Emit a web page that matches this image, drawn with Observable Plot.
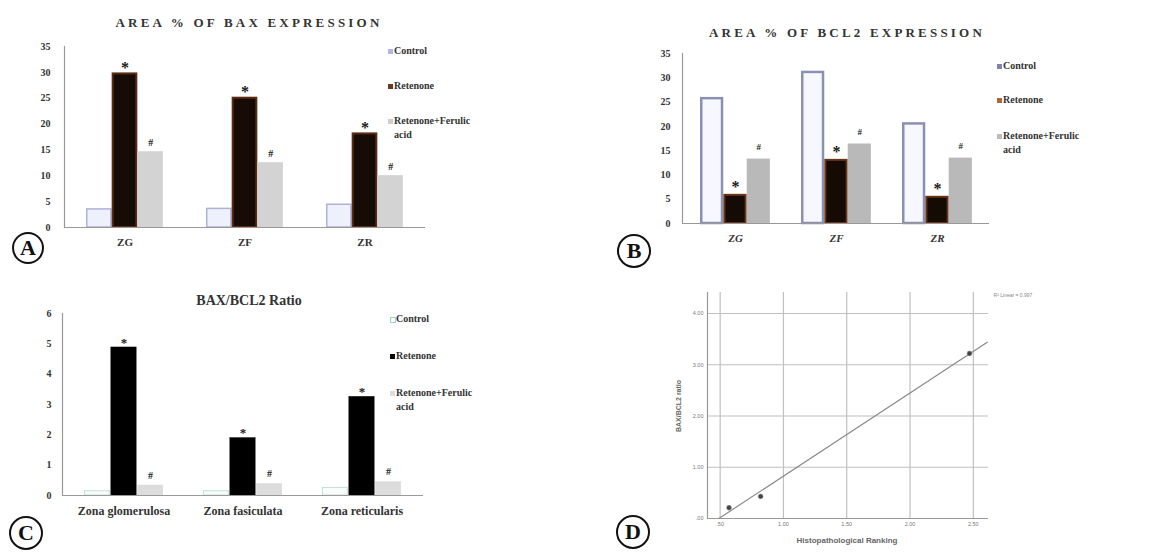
<!DOCTYPE html>
<html>
<head>
<meta charset="utf-8">
<script src="https://cdn.jsdelivr.net/npm/d3@7"></script>
<script src="https://cdn.jsdelivr.net/npm/@observablehq/plot@0.6"></script>
<style>
  html, body { margin: 0; padding: 0; background: #fff; }
  #fig { position: relative; width: 1168px; height: 560px; overflow: hidden; background: #fff; font-family: "Liberation Serif", "DejaVu Serif", serif; }
  .abs { position: absolute; }
  .title { position: absolute; font-weight: bold; color: #333; white-space: nowrap; transform: translate(-50%, -50%); }
  .leg { position: absolute; font-weight: bold; font-size: 10px; color: #333; line-height: 14px; }
  .leg .row { position: absolute; left: 0; white-space: nowrap; }
  .leg .sw { position: absolute; left: 0; width: 5px; height: 5px; }
  .leg .tx { position: absolute; left: 6px; width: 96px; white-space: normal; }
  .badge { position: absolute; box-sizing: border-box; border: 2px solid #111; border-radius: 50%; display: flex; align-items: center; justify-content: center; font-weight: bold; font-size: 22px; color: #111; transform: translate(-50%, -50%); }
  .dlab { position: absolute; font-family: "Liberation Sans", Arial, sans-serif; color: #555; white-space: nowrap; transform: translate(-50%, -50%); }
</style>
</head>
<body>
<div id="fig"></div>
<script>
// ---------------- data ----------------
const zonesShort = ["ZG", "ZF", "ZR"];
const zonesLong = ["Zona glomerulosa", "Zona fasiculata", "Zona reticularis"];
const groups = ["Control", "Retenone", "Retenone+Ferulic acid"];
const groupNotes = ["", "*", "#"];

const baxControl = [3.5, 3.6, 4.4];
const baxRetenone = [29.7, 25.0, 18.1];
const baxFerulic = [14.6, 12.5, 10.0];

const bcl2Control = [25.7, 31.1, 20.5];
const bcl2Retenone = [5.8, 13.0, 5.4];
const bcl2Ferulic = [13.2, 16.3, 13.4];

const ratioControl = [0.14, 0.14, 0.25];
const ratioRetenone = [4.88, 1.89, 3.25];
const ratioFerulic = [0.33, 0.38, 0.44];

const barTicks = [0, 5, 10, 15, 20, 25, 30, 35];
const ratioTicks = [0, 1, 2, 3, 4, 5, 6];

const rankX = [0.57, 0.82, 2.47];
const ratioY = [0.21, 0.43, 3.22];
const fitX = [0.49, 2.61];
const fitY = [0.0, 3.44];
const dTicksX = [0.5, 1.0, 1.5, 2.0, 2.5];
const dTicksY = [0, 1, 2, 3, 4];
const dDomainX = [0.4, 2.62];
const dDomainY = [0, 4.41];

const titles = ["AREA % OF BAX EXPRESSION", "AREA % OF BCL2 EXPRESSION", "BAX/BCL2 Ratio"];
const dXLabel = "Histopathological Ranking";
const dYLabel = "BAX/BCL2 ratio";
const dNote = "R\u00b2 Linear = 0.997";
const panelLetters = ["A", "B", "C", "D"];

// ---------------- helpers ----------------
const fig = document.getElementById("fig");

function place(node, left, top) {
  const d = document.createElement("div");
  d.className = "abs";
  d.style.left = left + "px";
  d.style.top = top + "px";
  d.appendChild(node);
  fig.appendChild(d);
}

function addDiv(cls, text, css) {
  const d = document.createElement("div");
  d.className = cls;
  if (text != null) d.textContent = text;
  Object.assign(d.style, css);
  fig.appendChild(d);
  return d;
}

function barPanel(cfg) {
  const n = cfg.zones.length;
  const inner = cfg.width - cfg.ml - cfg.mr;
  const step = inner / (n - cfg.pi + 2 * cfg.po);
  const barW = step * (1 - cfg.pi) / 3;
  const marks = [];
  cfg.series.forEach((vals, j) => {
    const rows = cfg.zones.map((z, i) => ({zone: z, value: vals[i], note: groupNotes[j]}));
    const off = (j - 1) * barW;
    marks.push(Plot.barY(rows, {
      x: "zone", y: "value",
      fill: cfg.fills[j], stroke: cfg.strokes[j], strokeWidth: cfg.sw[j],
      insetLeft: barW + cfg.sw[j] / 2, insetRight: barW + cfg.sw[j] / 2, dx: off
    }));
    if (groupNotes[j]) {
      const star = groupNotes[j] === "*";
      marks.push(Plot.text(rows, {
        x: "zone", y: "value", text: "note", dx: off,
        dy: star ? cfg.starDy : cfg.hashDy,
        fontSize: star ? cfg.starSize : cfg.hashSize, fontWeight: "bold", fill: "#1a1a1a"
      }));
    }
  });
  marks.push(Plot.frame({anchor: "left", stroke: cfg.axisColor, strokeWidth: 1.2}));
  marks.push(Plot.ruleY([0], {stroke: cfg.axisColor, strokeWidth: 1.2}));
  marks.push(Plot.axisY({ticks: cfg.yTicks, tickFormat: d3.format("d"), tickSize: 0, tickPadding: cfg.yPad, label: null, fontSize: cfg.yFont, fontWeight: "bold", fill: "#333"}));
  marks.push(Plot.axisX({tickSize: 0, tickPadding: cfg.xPad, label: null, fontSize: cfg.xFont, fontWeight: "bold", fontStyle: cfg.xStyle || "normal", fill: "#333"}));
  const svg = Plot.plot({
    width: cfg.width, height: cfg.height,
    marginLeft: cfg.ml, marginRight: cfg.mr, marginTop: cfg.mt, marginBottom: cfg.mb,
    x: {domain: cfg.zones, paddingInner: cfg.pi, paddingOuter: cfg.po},
    y: {domain: [0, cfg.yTicks[cfg.yTicks.length - 1]]},
    style: {"font-family": "'Liberation Serif', serif", "color": cfg.axisColor, "background": "transparent", "overflow": "visible"},
    marks
  });
  place(svg, cfg.left, cfg.top);
}

function legend(left, top, rowsY, swatches) {
  const L = addDiv("leg", null, {left: left + "px", top: top + "px"});
  groups.forEach((g, i) => {
    const r = document.createElement("div");
    r.className = "row";
    r.style.top = rowsY[i] + "px";
    const s = document.createElement("div");
    s.className = "sw";
    s.style.top = "5px";
    Object.assign(s.style, swatches[i]);
    const t = document.createElement("div");
    t.className = "tx";
    t.textContent = g;
    r.appendChild(s); r.appendChild(t);
    L.appendChild(r);
  });
}

function badge(letter, cx, cy, size) {
  addDiv("badge", letter, {left: cx + "px", top: cy + "px", width: size + "px", height: size + "px"});
}

// ---------------- Panel A ----------------
barPanel({
  left: 0, top: 30, width: 440, height: 235, ml: 64, mr: 15, mt: 16, mb: 38,
  pi: 0.36, po: 0.18, zones: zonesShort,
  series: [baxControl, baxRetenone, baxFerulic],
  fills: ["#eef0fb", "#160b05", "#d3d3d3"],
  strokes: ["#aeb2da", "#5b2c12", "#d3d3d3"],
  sw: [1.5, 2, 0.5],
  yTicks: barTicks, yPad: 14, yFont: 10, xPad: 11, xFont: 11,
  starDy: -6, hashDy: -9, starSize: 16, hashSize: 10, axisColor: "#999"
});
addDiv("title", titles[0], {left: "249px", top: "23px", fontSize: "13px", letterSpacing: "3.2px"});
legend(388, 44, [0, 35, 70], [
  {background: "#b4b6e6"}, {background: "#6a3a1e"}, {background: "#cfcfcf"}
]);
badge(panelLetters[0], 28, 248, 32);

// ---------------- Panel B ----------------
barPanel({
  left: 580, top: 40, width: 430, height: 225, ml: 102, mr: 21, mt: 13, mb: 42,
  pi: 0.31, po: 0.166, zones: zonesShort,
  series: [bcl2Control, bcl2Retenone, bcl2Ferulic],
  fills: ["#f7f8ff", "#150b05", "#b9b9b9"],
  strokes: ["#8a90b4", "#6b3515", "#b9b9b9"],
  sw: [2.5, 2, 0.5],
  yTicks: barTicks, yPad: 12, yFont: 10, xPad: 11, xFont: 11, xStyle: "italic",
  starDy: -8, hashDy: -12, starSize: 16, hashSize: 9, axisColor: "#999"
});
addDiv("title", titles[1], {left: "847px", top: "33px", fontSize: "13px", letterSpacing: "3.2px"});
legend(997, 59, [0, 34, 70], [
  {background: "#7c82b2"}, {background: "#b5643a"}, {background: "#bdbdbd"}
]);
badge(panelLetters[1], 634, 251, 34);

// ---------------- Panel C ----------------
barPanel({
  left: 0, top: 300, width: 440, height: 225, ml: 62, mr: 17, mt: 13, mb: 30,
  pi: 0.333, po: 0.175, zones: zonesLong,
  series: [ratioControl, ratioRetenone, ratioFerulic],
  fills: ["#f9fcfb", "#000000", "#dcdcdc"],
  strokes: ["#bfe2d8", "#000000", "#dcdcdc"],
  sw: [1, 0.5, 0.5],
  yTicks: ratioTicks, yPad: 11, yFont: 10, xPad: 11, xFont: 12,
  starDy: -5, hashDy: -10, starSize: 13, hashSize: 10, axisColor: "#999"
});
addDiv("title", titles[2], {left: "249px", top: "301px", fontSize: "14px"});
legend(390, 312, [0, 37, 74], [
  {background: "#fff", border: "1px solid #9fd4c4", width: "4px", height: "4px"},
  {background: "#000"}, {background: "#dcdcdc"}
]);
badge(panelLetters[2], 26, 533, 34);

// ---------------- Panel D ----------------
{
  const pts = rankX.map((x, i) => ({x, y: ratioY[i]}));
  const fit = fitX.map((x, i) => ({x, y: fitY[i]}));
  const fmt = d => d3.format(".2f")(d).replace(/^0/, "");
  const svg = Plot.plot({
    width: 430, height: 270, marginLeft: 127, marginRight: 22, marginTop: 7, marginBottom: 37,
    x: {domain: dDomainX}, y: {domain: dDomainY},
    style: {"font-family": "'Liberation Sans', sans-serif", "color": "#777", "background": "transparent", "overflow": "visible"},
    marks: [
      Plot.ruleX(dTicksX, {stroke: "#c0c0c0", strokeWidth: 1.2}),
      Plot.ruleY(dTicksY.filter(v => v > 0), {stroke: "#c0c0c0", strokeWidth: 1.2}),
      Plot.ruleX([dDomainX[0]], {stroke: "#999", strokeWidth: 1.2}),
      Plot.ruleY([dDomainY[0]], {stroke: "#999", strokeWidth: 1.2}),
      Plot.line(fit, {x: "x", y: "y", stroke: "#8a8a8a", strokeWidth: 1.2}),
      Plot.dot(pts, {x: "x", y: "y", r: 2.4, fill: "#444", stroke: "#888", strokeWidth: 0.5}),
      Plot.axisX({ticks: dTicksX, tickFormat: fmt, tickSize: 0, tickPadding: 4, label: null, fontSize: 5.5, fill: "#777"}),
      Plot.axisY({ticks: dTicksY, tickFormat: fmt, tickSize: 0, tickPadding: 4, label: null, fontSize: 5.5, fill: "#777"})
    ]
  });
  place(svg, 580, 285);
  addDiv("dlab", dXLabel, {left: "847px", top: "540px", fontSize: "8px", fontWeight: "bold", color: "#666"});
  addDiv("dlab", dYLabel, {left: "678px", top: "406px", fontSize: "7px", fontWeight: "bold", color: "#666", transform: "translate(-50%, -50%) rotate(-90deg)"});
  addDiv("dlab", dNote, {left: "1013px", top: "295px", fontSize: "5px", color: "#888"});
  badge(panelLetters[3], 633, 532, 34);
}
</script>
</body>
</html>
